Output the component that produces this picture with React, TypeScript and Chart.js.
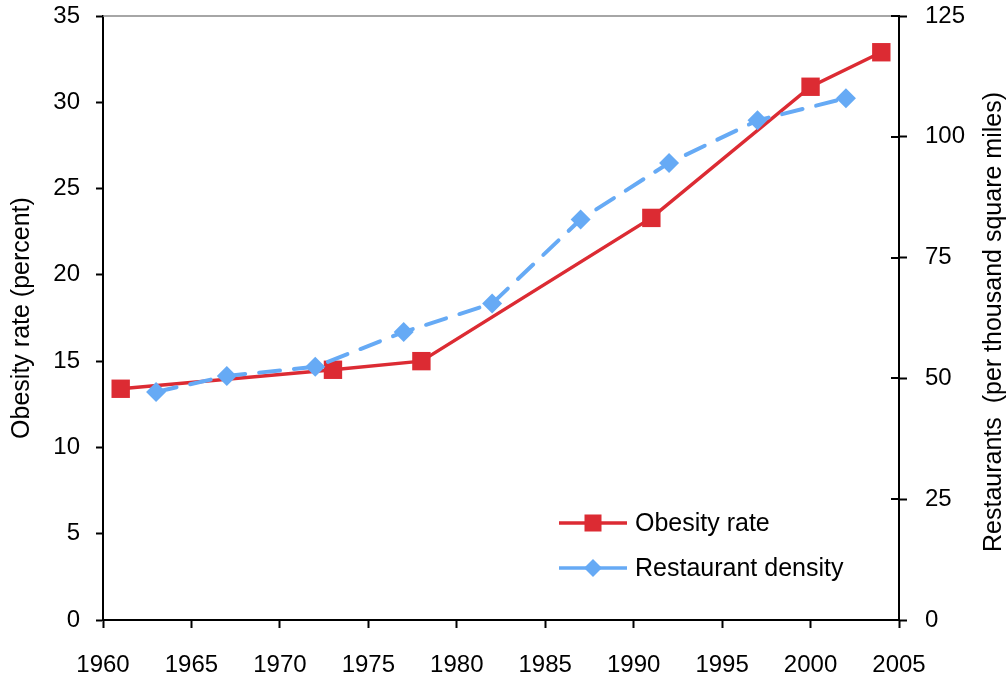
import React, { useEffect, useRef } from "react";
import { Chart, registerables } from "chart.js";

Chart.register(...registerables);

const obesityYears = [1961, 1973, 1978, 1991, 2000, 2004];
const obesityRate = [13.4, 14.5, 15.0, 23.3, 30.9, 32.9];
const restaurantYears = [1963, 1967, 1972, 1977, 1982, 1987, 1992, 1997, 2002];
const restaurantDensity = [47.2, 50.5, 52.4, 59.6, 65.5, 82.9, 94.6, 103.4, 108.0];
const seriesLabels = ["Obesity rate", "Restaurant density"];
const leftTitle = "Obesity rate (percent)";
const rightTitle = "Restaurants  (per thousand square miles)";
const xRange = [1960, 2005, 5];
const leftRange = [0, 35, 5];
const rightRange = [0, 125, 25];

const RED = "#DC2B33";
const BLUE = "#66AAF5";
const FONT = "'Liberation Sans', Arial, Helvetica, sans-serif";

const decor = {
  id: "decor",
  afterDraw(chart: any) {
    const { ctx, chartArea: ca, scales } = chart;
    ctx.save();
    // top border
    ctx.strokeStyle = "#888888";
    ctx.lineWidth = 1.5;
    ctx.beginPath();
    ctx.moveTo(ca.left, ca.top);
    ctx.lineTo(ca.right, ca.top);
    ctx.stroke();
    // inner part of right axis ticks
    const y1 = scales.y1;
    ctx.strokeStyle = "#000";
    ctx.lineWidth = 2;
    y1.ticks.forEach((t: any) => {
      const py = Math.round(y1.getPixelForValue(t.value));
      ctx.beginPath();
      ctx.moveTo(ca.right - 8, py);
      ctx.lineTo(ca.right, py);
      ctx.stroke();
    });
    // right title (reads upward)
    ctx.fillStyle = "#000";
    ctx.font = `25px ${FONT}`;
    ctx.textAlign = "center";
    ctx.textBaseline = "middle";
    ctx.translate(994, 322);
    ctx.rotate(-Math.PI / 2);
    ctx.fillText(rightTitle, 0, 0);
    ctx.setTransform(1, 0, 0, 1, 0, 0);
    // legend
    const ds = chart.data.datasets;
    const lx0 = ca.left + 456;
    const lx1 = ca.left + 524;
    const mx = (lx0 + lx1) / 2;
    const rows = [ca.top + 507, ca.top + 552];
    ctx.font = `25px ${FONT}`;
    ctx.textAlign = "left";
    ctx.textBaseline = "middle";
    seriesLabels.forEach((label, i) => {
      const d = ds.find((x: any) => x.label === label);
      const y = rows[i];
      ctx.strokeStyle = d.borderColor;
      ctx.lineWidth = 3.5;
      ctx.setLineDash([]);
      ctx.beginPath();
      ctx.moveTo(lx0, y);
      ctx.lineTo(lx1, y);
      ctx.stroke();
      ctx.fillStyle = d.borderColor;
      if (d.pointStyle === "rect") {
        ctx.fillRect(mx - 8.5, y - 8.5, 17, 17);
      } else {
        const r = 9;
        ctx.beginPath();
        ctx.moveTo(mx, y - r);
        ctx.lineTo(mx + r, y);
        ctx.lineTo(mx, y + r);
        ctx.lineTo(mx - r, y);
        ctx.closePath();
        ctx.fill();
      }
      ctx.fillStyle = "#000";
      ctx.fillText(label, lx1 + 8, y + 1);
    });
    ctx.restore();
  },
};

export default function App() {
  const ref = useRef<HTMLCanvasElement | null>(null);
  useEffect(() => {
    if (!ref.current) return;
    const chart = new Chart(ref.current, {
      type: "line",
      data: {
        datasets: [
          {
            label: seriesLabels[0],
            data: obesityYears.map((x, i) => ({ x, y: obesityRate[i] })),
            borderColor: RED,
            backgroundColor: RED,
            borderWidth: 3.5,
            pointStyle: "rect",
            pointRadius: 13,
            pointBorderWidth: 0,
            yAxisID: "y",
            order: 2,
          },
          {
            label: seriesLabels[1],
            data: restaurantYears.map((x, i) => ({ x, y: restaurantDensity[i] })),
            borderColor: BLUE,
            backgroundColor: BLUE,
            borderWidth: 4,
            borderDash: [21, 14],
            borderCapStyle: "round",
            pointStyle: "rectRot",
            pointRadius: 10,
            pointBorderWidth: 0,
            yAxisID: "y1",
            order: 1,
          },
        ] as any,
      },
      options: {
        animation: false,
        responsive: false,
        layout: { padding: { top: 16, left: 0, right: 0, bottom: 0 }, autoPadding: false } as any,
        plugins: { legend: { display: false }, tooltip: { enabled: false } },
        scales: {
          x: {
            type: "linear",
            min: xRange[0],
            max: xRange[1],
            afterFit: (s: any) => { s.height = 59; },
            ticks: {
              stepSize: xRange[2],
              color: "#000",
              font: { family: FONT, size: 24 },
              padding: 23,
              maxRotation: 0,
              callback: (v: any) => String(v),
            },
            grid: { drawOnChartArea: false, tickLength: 8, tickColor: "#000", tickWidth: 2 },
            border: { display: true, color: "#000", width: 2 },
          },
          y: {
            type: "linear",
            position: "left",
            min: leftRange[0],
            max: leftRange[1],
            afterFit: (s: any) => { s.width = 103; s.paddingTop = 0; s.paddingBottom = 0; },
            ticks: {
              stepSize: leftRange[2],
              color: "#000",
              font: { family: FONT, size: 24 },
              padding: 16,
            },
            grid: { drawOnChartArea: false, tickLength: 7, tickColor: "#000", tickWidth: 2 },
            border: { display: true, color: "#000", width: 2 },
            title: {
              display: true,
              text: leftTitle,
              color: "#000",
              font: { family: FONT, size: 25 },
              padding: { top: 7, bottom: 0 },
            },
          },
          y1: {
            type: "linear",
            position: "right",
            min: rightRange[0],
            max: rightRange[1],
            afterFit: (s: any) => { s.width = 109; s.paddingTop = 0; s.paddingBottom = 0; },
            ticks: {
              stepSize: rightRange[2],
              color: "#000",
              font: { family: FONT, size: 24 },
              padding: 18,
            },
            grid: { drawOnChartArea: false, tickLength: 8, tickColor: "#000", tickWidth: 2 },
            border: { display: true, color: "#000", width: 2 },
          },
        },
      } as any,
      plugins: [decor],
    });
    return () => chart.destroy();
  }, []);
  return (
    <div style={{ position: "fixed", left: 0, top: 0, width: 1008, height: 679, background: "#fff" }}>
      <canvas ref={ref} width={1008} height={679} />
    </div>
  );
}
